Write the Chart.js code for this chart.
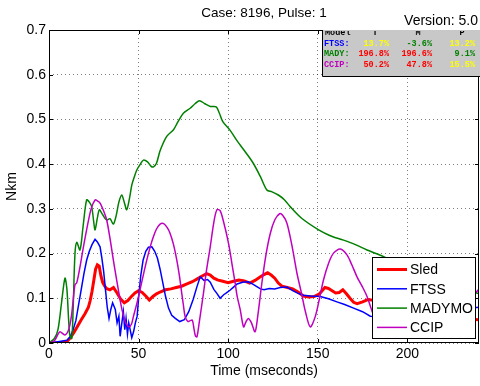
<!DOCTYPE html>
<html>
<head>
<meta charset="utf-8">
<script src="https://cdn.jsdelivr.net/npm/chart.js@4.4.0/dist/chart.umd.min.js"></script>
<style>
  body { margin: 0; background: #fff; }
  canvas { display: block; }
</style>
</head>
<body>
<canvas id="chart" width="480" height="386"></canvas>
<script>
// ticks
var xTicks = [0, 50, 100, 150, 200];
var yTicks = [0, 0.1, 0.2, 0.3, 0.4, 0.5, 0.6, 0.7];

// Sled (time in ms, Nkm)
var sledT = [0, 5, 10, 12, 14, 16, 18, 20, 22, 23,
  24, 25, 26, 27, 28, 29, 30, 31, 32, 34,
  36, 38, 40, 42, 44, 46, 48, 50, 52, 54,
  56, 58, 60, 62, 65, 68, 71, 74, 77, 80,
  83, 86, 88, 90, 92, 94, 97, 100, 103, 106,
  109, 112, 115, 118, 120, 122, 124, 126, 128, 130,
  133, 136, 139, 142, 145, 148, 151, 154, 156, 158,
  160, 162, 164, 166, 168, 170, 172, 175, 178, 182,
  190, 200, 210, 220, 230, 240];
var sledV = [0, 0, 0.003, 0.012, 0.024, 0.038, 0.052, 0.065, 0.08, 0.095,
  0.115, 0.14, 0.165, 0.175, 0.172, 0.15, 0.135, 0.128, 0.122, 0.119,
  0.124, 0.112, 0.098, 0.09, 0.095, 0.104, 0.112, 0.117, 0.113, 0.105,
  0.096, 0.104, 0.11, 0.114, 0.119, 0.121, 0.124, 0.127, 0.132, 0.137,
  0.144, 0.151, 0.155, 0.152, 0.145, 0.141, 0.138, 0.135, 0.138, 0.141,
  0.139, 0.134, 0.14, 0.148, 0.153, 0.157, 0.152, 0.145, 0.134, 0.127,
  0.124, 0.121, 0.114, 0.105, 0.103, 0.104, 0.11, 0.124, 0.122, 0.117,
  0.112, 0.113, 0.119, 0.11, 0.1, 0.091, 0.088, 0.092, 0.097, 0.095,
  0.09, 0.08, 0.07, 0.06, 0.055, 0.052];

// FTSS
var ftssT = [0, 5, 10, 12, 13.5, 15, 16.5, 18, 19.5, 21,
  22.5, 24, 25.7, 27, 28.5, 29.5, 30.5, 31.5, 32.5, 33.5,
  34.5, 35.5, 37, 38, 39, 39.7, 40.5, 41.5, 42.3, 43,
  43.8, 44.5, 45.3, 46.2, 47.2, 48.2, 49.2, 50.2, 51.2, 52.5,
  54, 55.5, 57.4, 59, 60.5, 62, 63.5, 65, 66.7, 68.5,
  70.5, 73, 75.5, 78, 80.5, 82.5, 84.4, 86.5, 88.5, 90,
  92, 93.7, 95.5, 97.5, 99, 101, 103, 105, 108, 111.3,
  114, 116, 118, 120, 123, 126, 129, 132.8, 136, 139,
  142, 146, 151.4, 156, 160.7, 165, 170, 175, 179.3, 190,
  200, 210, 220, 230, 240];
var ftssV = [0, 0.003, 0.006, 0.015, 0.03, 0.05, 0.085, 0.12, 0.155, 0.185,
  0.205, 0.22, 0.232, 0.226, 0.215, 0.19, 0.16, 0.12, 0.08, 0.055,
  0.075, 0.09, 0.075, 0.045, 0.06, 0.015, 0.04, 0.07, 0.03, 0.055,
  0.02, 0.045, 0.03, 0.012, 0.025, 0.045, 0.06, 0.11, 0.15, 0.185,
  0.205, 0.214, 0.215, 0.205, 0.19, 0.165, 0.135, 0.105, 0.078, 0.062,
  0.055, 0.048, 0.052, 0.07, 0.098, 0.125, 0.148, 0.14, 0.142, 0.136,
  0.12, 0.111, 0.1, 0.108, 0.112, 0.118, 0.125, 0.132, 0.136, 0.137,
  0.131, 0.126, 0.121, 0.119, 0.122, 0.121, 0.124, 0.125, 0.117, 0.111,
  0.107, 0.105, 0.104, 0.099, 0.092, 0.086, 0.078, 0.07, 0.06, 0.058,
  0.06, 0.065, 0.07, 0.076, 0.08];

// MADYMO
var madyT = [0, 3, 5, 7, 8.9, 10, 11.5, 12.7, 13.5, 14.5,
  15.5, 17.3, 19, 21, 22.5, 23.8, 25, 25.7, 27, 28.1,
  29.5, 31, 32.2, 34, 35.9, 37.5, 39, 40.6, 42, 43.4,
  45, 46.2, 47.5, 49, 51, 52.7, 55, 57, 58.3, 60,
  62, 65.7, 69.5, 72, 75, 78.8, 81.5, 84, 87, 90,
  93.3, 95, 97, 101, 105, 110, 114, 118, 121.6, 124.5,
  128, 131.5, 134.6, 141, 150.5, 157, 164.4, 171, 177.5, 186.8,
  195, 205, 215, 225, 240];
var madyV = [0, 0.01, 0.03, 0.09, 0.145, 0.12, 0.02, 0.01, 0.08, 0.2,
  0.225, 0.208, 0.26, 0.32, 0.315, 0.305, 0.27, 0.253, 0.28, 0.298,
  0.29, 0.28, 0.275, 0.278, 0.266, 0.285, 0.315, 0.331, 0.315, 0.298,
  0.325, 0.353, 0.37, 0.387, 0.4, 0.409, 0.405, 0.395, 0.394, 0.402,
  0.43, 0.462, 0.477, 0.495, 0.514, 0.525, 0.535, 0.542, 0.535, 0.529,
  0.528, 0.515, 0.495, 0.476, 0.452, 0.425, 0.402, 0.372, 0.342, 0.338,
  0.331, 0.32, 0.305, 0.279, 0.253, 0.24, 0.23, 0.22, 0.208, 0.193,
  0.178, 0.16, 0.145, 0.13, 0.11];

// CCIP
var ccipT = [0, 3, 6, 8.9, 11, 12.5, 13.6, 14.5, 15.5, 17.3,
  19, 21, 23.5, 25.7, 27, 28.5, 30.5, 32.2, 34, 35.9,
  37.8, 39.7, 41, 42.5, 43.5, 44.5, 46, 47.1, 49, 50.8,
  52.7, 54.6, 56.5, 58.3, 60, 62, 64, 66, 67.6, 69.5,
  71.3, 72.8, 74.1, 75, 76, 77.5, 78.8, 80, 81, 81.8,
  82.6, 84, 86.2, 88, 90, 92, 93.7, 95.5, 97.5, 100.2,
  102, 103.9, 105, 106.7, 108.6, 110, 111.3, 113, 115, 116.5,
  118.8, 121, 123.5, 126, 128.7, 130.5, 132.8, 135.5, 138.4, 141,
  143, 145.8, 148.6, 151, 153.2, 156, 158.8, 162.6, 166.3, 169,
  171.9, 175, 177.5, 180, 183, 187, 193, 200, 206, 212,
  218, 224, 230, 235, 240];
var ccipV = [0, 0.005, 0.025, 0.018, 0.03, 0.06, 0.1, 0.13, 0.135, 0.17,
  0.21, 0.253, 0.3, 0.32, 0.318, 0.313, 0.295, 0.275, 0.235, 0.186,
  0.14, 0.096, 0.07, 0.048, 0.04, 0.036, 0.042, 0.059, 0.088, 0.119,
  0.153, 0.186, 0.215, 0.238, 0.255, 0.266, 0.267, 0.258, 0.245, 0.22,
  0.186, 0.15, 0.111, 0.085, 0.059, 0.048, 0.05, 0.051, 0.03, 0.015,
  0.014, 0.05, 0.111, 0.165, 0.215, 0.27, 0.298, 0.296, 0.27, 0.223,
  0.18, 0.134, 0.105, 0.075, 0.036, 0.048, 0.055, 0.045, 0.025, 0.06,
  0.134, 0.195, 0.245, 0.275, 0.289, 0.285, 0.268, 0.22, 0.156, 0.11,
  0.072, 0.036, 0.059, 0.1, 0.141, 0.178, 0.201, 0.21, 0.197, 0.175,
  0.148, 0.125, 0.104, 0.075, 0.045, 0.03, 0.06, 0.13, 0.17, 0.14,
  0.09, 0.05, 0.07, 0.1, 0.12];

// error table
var tableHead = ['Model', 'T', 'M', 'P'];
var tableModels = ['FTSS:', 'MADY:', 'CCIP:'];
var tableT = [13.7, 196.8, 50.2];
var tableM = [-3.6, 196.6, 47.8];
var tableP = [13.2, 9.1, 15.5];

var FONT = '"Liberation Sans", Arial, sans-serif';
var MONO = '"Liberation Mono", "Courier New", monospace';

function pts(t, v) {
  return t.map(function (x, i) { return { x: x, y: v[i] }; });
}

// green under 10%, yellow under 20%, red above
function errColor(v) {
  var a = Math.abs(v);
  if (a < 10) return '#008000';
  if (a < 20) return '#ffff00';
  return '#ff0000';
}

var modelColors = ['#0000ff', '#008000', '#bf00bf'];

var matlabAxes = {
  id: 'matlabAxes',
  afterDatasetsDraw: function (chart) {
    var ctx = chart.ctx, a = chart.chartArea, sx = chart.scales.x, sy = chart.scales.y;
    ctx.save();
    // axes box + inward ticks
    ctx.strokeStyle = '#000';
    ctx.lineWidth = 1;
    ctx.strokeRect(a.left + 0.5, a.top + 0.5, a.right - a.left - 1, a.bottom - a.top - 1);
    ctx.beginPath();
    xTicks.forEach(function (v) {
      var x = Math.round(sx.getPixelForValue(v)) + 0.5;
      ctx.moveTo(x, a.bottom); ctx.lineTo(x, a.bottom - 4);
      ctx.moveTo(x, a.top); ctx.lineTo(x, a.top + 4);
    });
    yTicks.forEach(function (v) {
      var y = Math.round(sy.getPixelForValue(v)) + 0.5;
      ctx.moveTo(a.left, y); ctx.lineTo(a.left + 4, y);
      ctx.moveTo(a.right, y); ctx.lineTo(a.right - 4, y);
    });
    ctx.stroke();

    // table box top right
    var bx = 322, by = a.top, bw = 480 - bx, bh = 46;
    ctx.fillStyle = '#c8c8c8';
    ctx.fillRect(bx, by, bw, bh);
    ctx.beginPath();
    ctx.moveTo(bx + 0.5, by); ctx.lineTo(bx + 0.5, by + bh + 0.5); ctx.lineTo(480, by + bh + 0.5);
    ctx.stroke();
    ctx.save();
    ctx.beginPath();
    ctx.rect(bx + 1, by + 1, bw - 1, bh - 1);
    ctx.clip();
    ctx.textBaseline = 'middle';
    ctx.font = 'bold 8.5px ' + MONO;
    ctx.fillStyle = '#000';
    ctx.textAlign = 'left';
    ctx.fillText(tableHead[0], bx + 3, by + 3);
    ctx.textAlign = 'center';
    ctx.fillText(tableHead[1], 375, by + 3);
    ctx.fillText(tableHead[2], 418, by + 3);
    ctx.fillText(tableHead[3], 462, by + 3);
    tableModels.forEach(function (m, i) {
      var y = by + 13.5 + i * 10.5;
      ctx.textAlign = 'left';
      ctx.fillStyle = modelColors[i];
      ctx.fillText(m, bx + 2, y);
      ctx.textAlign = 'right';
      ctx.fillStyle = errColor(tableT[i]);
      ctx.fillText(tableT[i].toFixed(1) + '%', 389, y);
      ctx.fillStyle = errColor(tableM[i]);
      ctx.fillText(tableM[i].toFixed(1) + '%', 432, y);
      ctx.fillStyle = errColor(tableP[i]);
      ctx.fillText(tableP[i].toFixed(1) + '%', 475, y);
    });
    ctx.restore();

    // legend box bottom right
    var lx = 372, ly = 257, lw = 104, lh = 82;
    ctx.fillStyle = '#fff';
    ctx.fillRect(lx, ly, lw, lh);
    ctx.strokeStyle = '#000';
    ctx.strokeRect(lx + 0.5, ly + 0.5, lw - 1, lh - 1);
    ctx.font = '14px ' + FONT;
    ctx.textAlign = 'left';
    ctx.textBaseline = 'middle';
    chart.data.datasets.forEach(function (ds, i) {
      var y = ly + 12.5 + i * 19.3;
      ctx.strokeStyle = ds.borderColor;
      ctx.lineWidth = ds.borderWidth;
      ctx.beginPath();
      ctx.moveTo(lx + 5, y); ctx.lineTo(lx + 35, y);
      ctx.stroke();
      ctx.fillStyle = '#000';
      ctx.fillText(ds.label, lx + 38, y + 1);
    });
    ctx.restore();
  },
  afterDraw: function (chart) {
    var ctx = chart.ctx, a = chart.chartArea;
    ctx.save();
    ctx.fillStyle = '#000';
    ctx.textBaseline = 'middle';
    ctx.font = '13.5px ' + FONT;
    ctx.textAlign = 'center';
    ctx.fillText('Case: 8196, Pulse: 1', (a.left + a.right) / 2, 13);
    ctx.font = '14px ' + FONT;
    ctx.textAlign = 'right';
    ctx.fillText('Version: 5.0', 478, 21);
    ctx.restore();
  }
};

var tickFont = { family: FONT, size: 14 };

var chart = new Chart(document.getElementById('chart'), {
  type: 'line',
  data: {
    datasets: [
      { label: 'Sled', data: pts(sledT, sledV), borderColor: '#ff0000', borderWidth: 3, tension: 0, order: 4 },
      { label: 'FTSS', data: pts(ftssT, ftssV), borderColor: '#0000ff', borderWidth: 1.5, tension: 0, order: 3 },
      { label: 'MADYMO', data: pts(madyT, madyV), borderColor: '#008000', borderWidth: 1.5, tension: 0.3, order: 2 },
      { label: 'CCIP', data: pts(ccipT, ccipV), borderColor: '#bf00bf', borderWidth: 1.5, tension: 0.3, order: 1 }
    ]
  },
  options: {
    responsive: false,
    animation: false,
    layout: { padding: { top: 30, right: 1, left: 0, bottom: 0 } },
    elements: { point: { radius: 0 } },
    plugins: {
      legend: { display: false },
      title: { display: false },
      tooltip: { enabled: false }
    },
    scales: {
      x: {
        type: 'linear',
        min: 0,
        max: 240,
        afterBuildTicks: function (s) { s.ticks = xTicks.map(function (v) { return { value: v }; }); },
        afterFit: function (s) { s.height = 43; },
        ticks: { font: tickFont, color: '#000', padding: 3, maxRotation: 0, autoSkip: false },
        grid: { color: 'rgba(0,0,0,0.5)', drawTicks: false },
        border: { display: false, dash: [1, 3] },
        title: { display: true, text: 'Time (mseconds)', font: tickFont, color: '#000', padding: { top: 0, bottom: 6 } }
      },
      y: {
        min: 0,
        max: 0.7,
        afterBuildTicks: function (s) { s.ticks = yTicks.map(function (v) { return { value: v }; }); },
        afterFit: function (s) { s.width = 49; },
        ticks: {
          font: tickFont, color: '#000', padding: 3, autoSkip: false,
          callback: function (v) { return v === 0 ? '0' : v.toFixed(1); }
        },
        grid: { color: 'rgba(0,0,0,0.5)', drawTicks: false },
        border: { display: false, dash: [1, 3] },
        title: { display: true, text: 'Nkm', font: tickFont, color: '#000', padding: { top: 4, bottom: 0 } }
      }
    }
  },
  plugins: [matlabAxes]
});
</script>
</body>
</html>
